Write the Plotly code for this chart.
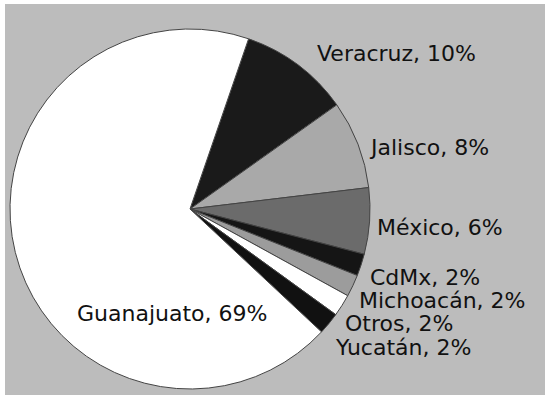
import plotly.graph_objects as go

# Data
states = ["Veracruz", "Jalisco", "México", "CdMx", "Michoacán", "Otros", "Yucatán", "Guanajuato"]
shares = [10, 8, 6, 2, 2, 2, 2, 69]
slice_colors = ["#1a1a1a", "#a9a9a9", "#6b6b6b", "#151515", "#9c9c9c", "#ffffff", "#111111", "#ffffff"]

# label placement (pixels: x anchor, y center)
label_pos = {
    "Veracruz": (315, 53, "left"),
    "Jalisco": (367, 147, "left"),
    "México": (375, 227, "left"),
    "CdMx": (368, 277, "left"),
    "Michoacán": (357, 300, "left"),
    "Otros": (343, 323, "left"),
    "Yucatán": (333, 347, "left"),
    "Guanajuato": (75, 313, "left"),
}

W, H = 545, 403

fig = go.Figure(go.Pie(
    labels=states,
    values=shares,
    sort=False,
    direction="clockwise",
    rotation=19,
    textinfo="none",
    hoverinfo="label+value",
    marker=dict(colors=slice_colors, line=dict(color="#444444", width=1)),
    domain=dict(x=[10 / W, 370 / W], y=[(H - 389) / H, (H - 29) / H]),
    showlegend=False,
))

annotations = []
for s, v in zip(states, shares):
    x, y, anc = label_pos[s]
    annotations.append(dict(
        x=x / W, y=1 - y / H, xref="paper", yref="paper",
        xanchor=anc, yanchor="middle", showarrow=False,
        text=f"{s}, {v}%",
        font=dict(family="DejaVu Sans", size=22, color="#111111"),
    ))

fig.update_layout(
    width=W, height=H,
    margin=dict(l=0, r=0, t=0, b=0),
    paper_bgcolor="#ffffff",
    plot_bgcolor="#ffffff",
    shapes=[dict(type="rect", xref="paper", yref="paper",
                 x0=5 / W, x1=1, y0=1 - 395 / H, y1=1 - 4 / H,
                 fillcolor="#bcbcbc", line=dict(width=0), layer="below")],
    annotations=annotations,
)

fig.write_html("out.html", config={"displayModeBar": False},
               post_script="document.body.style.margin='0';")
